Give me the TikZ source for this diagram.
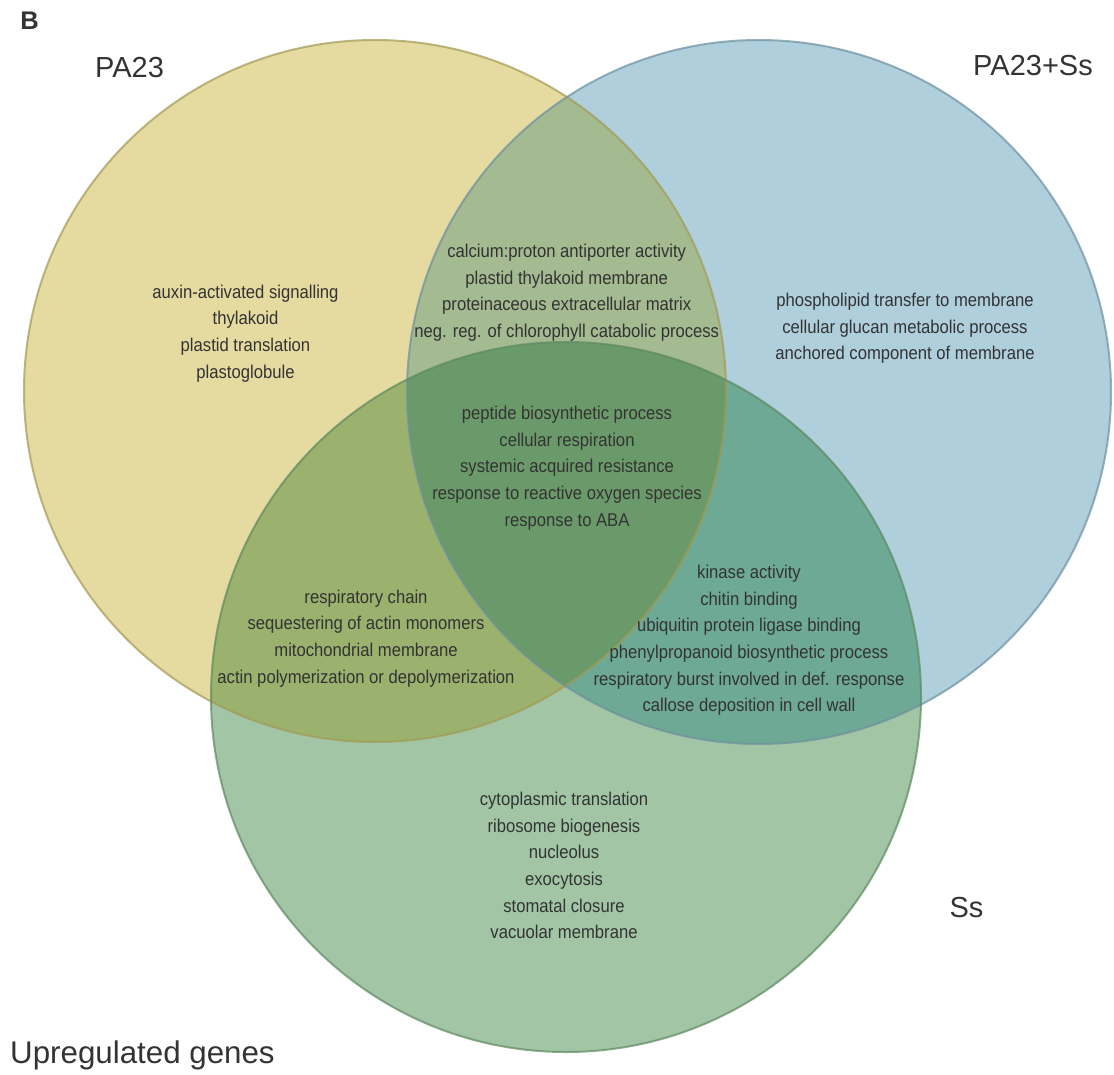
\documentclass[tikz,border=0pt]{standalone}
\usepackage{fontspec}
\setmainfont{Liberation Sans}
\newfontfamily\narrowfont[FakeStretch=0.9]{Liberation Sans}
\definecolor{cyel}{HTML}{E5DBA0}
\definecolor{cblu}{HTML}{AFCFDD}
\definecolor{cgrn}{HTML}{A2C6A5}
\definecolor{cyb}{HTML}{A4BA90}
\definecolor{cyg}{HTML}{9AB26E}
\definecolor{cbg}{HTML}{6DA995}
\definecolor{call}{HTML}{6A9A69}
\definecolor{lyel}{HTML}{A39A55}
\definecolor{lblu}{HTML}{6E90A0}
\definecolor{lgrn}{HTML}{5E8A62}
\definecolor{txt}{HTML}{333333}
\tikzset{
  goterm/.style={font=\narrowfont\fontsize{18.5}{26.7}\selectfont, align=center, text=txt, inner sep=0pt},
  setlabel/.style={font=\fontsize{29}{32}\selectfont, text=txt, inner sep=0pt},
  rim/.style={line width=2pt, draw opacity=0.7}
}
\begin{document}
\begin{tikzpicture}[x=1pt,y=-1pt]
\useasboundingbox (0,0) rectangle (1114,1074);
\fill[white] (0,0) rectangle (1114,1074);
\coordinate (cy) at (375,391);
\coordinate (cb) at (759,392);
\coordinate (cg) at (566,697);
% base fills
\fill[cyel] (cy) circle[radius=351pt];
\fill[cblu] (cb) circle[radius=352pt];
\fill[cgrn] (cg) circle[radius=355pt];
% pairwise overlaps
\begin{scope}
  \clip (cy) circle[radius=351pt];
  \fill[cyb] (cb) circle[radius=352pt];
  \fill[cyg] (cg) circle[radius=355pt];
\end{scope}
\begin{scope}
  \clip (cb) circle[radius=352pt];
  \fill[cbg] (cg) circle[radius=355pt];
\end{scope}
\begin{scope}
  \clip (cy) circle[radius=351pt];
  \clip (cb) circle[radius=352pt];
  \fill[call] (cg) circle[radius=355pt];
\end{scope}
% outlines
\draw[rim, lyel] (cy) circle[radius=351pt];
\draw[rim, lblu] (cb) circle[radius=352pt];
\draw[rim, lgrn] (cg) circle[radius=355pt];
% labels
\node[font=\bfseries\fontsize{25.5}{28}\selectfont, text=txt, inner sep=0pt] (panel) at (29.5,21) {B};
\node[setlabel] (lpa) at (129.5,67.5) {PA23};
\node[setlabel] (lpass) at (1033,65.5) {PA23+Ss};
\node[setlabel] (lss) at (966.5,907.5) {Ss};
\node[setlabel, font=\fontsize{31.3}{34}\selectfont, anchor=base west] (lup) at (10,1063) {Upregulated genes};
% GO terms
\node[goterm] (t1) at (245.5,333.5) {auxin-activated signalling\\thylakoid\\plastid translation\\plastoglobule};
\node[goterm] (t2) at (566.7,292.7) {calcium:proton antiporter activity\\plastid thylakoid membrane\\proteinaceous extracellular matrix\\neg. reg. of chlorophyll catabolic process};
\node[goterm] (t3) at (905,328.5) {phospholipid transfer to membrane\\cellular glucan metabolic process\\anchored component of membrane};
\node[goterm] (t4) at (567,468) {peptide biosynthetic process\\cellular respiration\\systemic acquired resistance\\response to reactive oxygen species\\response to ABA};
\node[goterm] (t5) at (366,638.5) {respiratory chain\\sequestering of actin monomers\\mitochondrial membrane\\actin polymerization or depolymerization};
\node[goterm] (t6) at (749,640.3) {kinase activity\\chitin binding\\ubiquitin protein ligase binding\\phenylpropanoid biosynthetic process\\respiratory burst involved in def. response\\callose deposition in cell wall};
\node[goterm] (t7) at (564,865.6) {cytoplasmic translation\\ribosome biogenesis\\nucleolus\\exocytosis\\stomatal closure\\vacuolar membrane};
\end{tikzpicture}
\end{document}
